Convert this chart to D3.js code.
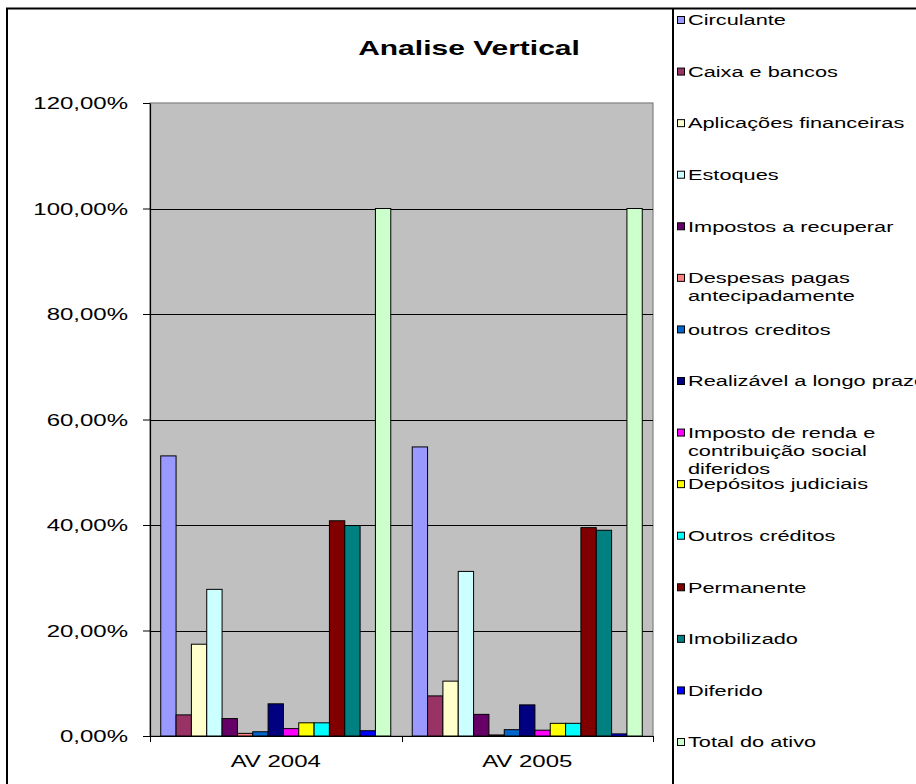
<!DOCTYPE html>
<html>
<head>
<meta charset="utf-8">
<script src="https://cdn.jsdelivr.net/npm/d3@7"></script>
<style>
  html, body { margin: 0; padding: 0; background: #fff; }
  svg { display: block; font-family: "Liberation Sans", Arial, sans-serif; }
</style>
</head>
<body>
<svg id="chart" width="916" height="784"></svg>
<script>
// Categories (x axis groups)
const categories = ["AV 2004", "AV 2005"];

// Series names, in legend order
const seriesNames = [
  "Circulante",
  "Caixa e bancos",
  "Aplicações financeiras",
  "Estoques",
  "Impostos a recuperar",
  "Despesas pagas\nantecipadamente",
  "outros creditos",
  "Realizável a longo prazo",
  "Imposto de renda e\ncontribuição social\ndiferidos",
  "Depósitos judiciais",
  "Outros créditos",
  "Permanente",
  "Imobilizado",
  "Diferido",
  "Total do ativo"
];

// Series colours
const seriesColors = [
  "#9999FF", "#993366", "#FFFFCC", "#CCFFFF", "#660066",
  "#FF8080", "#0066CC", "#000080", "#FF00FF", "#FFFF00",
  "#00FFFF", "#800000", "#008080", "#0000FF", "#CCFFCC"
];

// Vertical analysis values (%), one per series
const values2004 = [53.1, 4.0, 17.4, 27.8, 3.3, 0.5, 0.8, 6.1, 1.4, 2.5, 2.5, 40.8, 39.9, 1.0, 100];
const values2005 = [54.8, 7.6, 10.4, 31.2, 4.1, 0.2, 1.2, 5.9, 1.1, 2.4, 2.4, 39.5, 39.0, 0.4, 100];

// Y axis ticks (%)
const yTicks = [0, 20, 40, 60, 80, 100, 120];

const title = "Analise Vertical";

const valuesByCategory = [values2004, values2005];
const SX = 1.5;        // horizontal text stretch (axes, title)
const SX_LEGEND = 1.45; // horizontal text stretch (legend)

const svg = d3.select("#chart");
const plot = { left: 150, right: 653, top: 103, bottom: 736 };

const locale = d3.formatLocale({ decimal: ",", thousands: ".", grouping: [3], currency: ["R$", ""] });
const fmt = v => locale.format(".2f")(v) + "%";

const x = d3.scaleBand().domain(categories).range([plot.left, plot.right]).padding(0);
const bw = x.bandwidth();
const pad = bw * 0.7 / 16.4;
const xs = d3.scaleBand().domain(d3.range(seriesNames.length)).range([pad, bw - pad]).padding(0);
const y = d3.scaleLinear().domain([0, 120]).range([plot.bottom, plot.top]);

// Outer chart frame
svg.append("path").attr("d", "M7,790 V8.5 H920").attr("fill", "none").attr("stroke", "#000").attr("stroke-width", 2);

// Title
svg.append("text")
  .attr("transform", `translate(469,55) scale(${SX},1)`)
  .attr("text-anchor", "middle")
  .attr("font-size", 20).attr("font-weight", "bold")
  .text(title);

// Plot area background
svg.append("rect")
  .attr("x", plot.left).attr("y", plot.top)
  .attr("width", plot.right - plot.left).attr("height", plot.bottom - plot.top)
  .attr("fill", "#C0C0C0").attr("stroke", "#808080").attr("stroke-width", 1.2);

// Gridlines
svg.append("g").selectAll("line")
  .data(yTicks.filter(t => t > 0 && t < 120))
  .join("line")
  .attr("x1", plot.left).attr("x2", plot.right)
  .attr("y1", d => Math.round(y(d)) + 0.5).attr("y2", d => Math.round(y(d)) + 0.5)
  .attr("stroke", "#000").attr("stroke-width", 1);

// Bars
const groups = svg.append("g").selectAll("g")
  .data(categories)
  .join("g")
  .attr("transform", d => `translate(${x(d)},0)`);

groups.selectAll("rect")
  .data((c, ci) => valuesByCategory[ci].map((v, i) => ({ v, i })))
  .join("rect")
  .attr("x", d => xs(d.i))
  .attr("width", xs.bandwidth())
  .attr("y", d => y(d.v))
  .attr("height", d => y(0) - y(d.v))
  .attr("fill", d => seriesColors[d.i])
  .attr("stroke", "#000").attr("stroke-width", 1);

// Y axis
const yAxis = svg.append("g")
  .attr("transform", `translate(${plot.left},0)`)
  .call(d3.axisLeft(y).tickValues(yTicks).tickFormat(fmt).tickSize(7).tickSizeOuter(0));
yAxis.select(".domain").attr("stroke", "#000").attr("stroke-width", 1.2);
yAxis.selectAll(".tick line").attr("stroke", "#000");
yAxis.selectAll(".tick text")
  .attr("x", -22 / SX).attr("dy", "0.35em")
  .attr("transform", `scale(${SX},1)`)
  .attr("font-size", 16).attr("font-family", "Liberation Sans, Arial, sans-serif").attr("fill", "#000");

// X axis
const xAxis = svg.append("g")
  .attr("transform", `translate(0,${plot.bottom})`)
  .call(d3.axisBottom(x).tickSize(0).tickSizeOuter(0));
xAxis.select(".domain").attr("stroke", "#000").attr("stroke-width", 1.2);
xAxis.selectAll(".tick text")
  .attr("y", 31).attr("dy", 0)
  .attr("transform", `scale(${SX},1)`)
  .attr("font-size", 16).attr("font-family", "Liberation Sans, Arial, sans-serif").attr("fill", "#000");
xAxis.selectAll(".tick").attr("transform", d => `translate(${x(d) + bw / 2},0)`);

// Category boundary ticks
const bounds = categories.map(c => x(c)).concat([x(categories[categories.length - 1]) + bw]);
xAxis.append("g").selectAll("line")
  .data(bounds)
  .join("line")
  .attr("x1", d => Math.round(d) + 0.5).attr("x2", d => Math.round(d) + 0.5)
  .attr("y1", 0).attr("y2", 6)
  .attr("stroke", "#000");

// Legend
svg.append("line").attr("x1", 673).attr("x2", 673).attr("y1", 8).attr("y2", 790)
  .attr("stroke", "#000").attr("stroke-width", 2);

const legendY = d3.scalePoint().domain(d3.range(seriesNames.length)).range([20, 742]);
const items = svg.append("g").selectAll("g")
  .data(seriesNames)
  .join("g")
  .attr("transform", (d, i) => `translate(677,${legendY(i)})`);

items.append("rect")
  .attr("x", 0.5).attr("y", -3.5).attr("width", 7).attr("height", 7)
  .attr("fill", (d, i) => seriesColors[i])
  .attr("stroke", "#000").attr("stroke-width", 1);

items.append("text")
  .attr("transform", `translate(11,0) scale(${SX_LEGEND},1)`)
  .attr("font-size", 15)
  .selectAll("tspan")
  .data(d => d.split("\n"))
  .join("tspan")
  .attr("x", 0)
  .attr("y", (d, i) => i * 18)
  .attr("dy", "0.35em")
  .text(d => d);
</script>
</body>
</html>
